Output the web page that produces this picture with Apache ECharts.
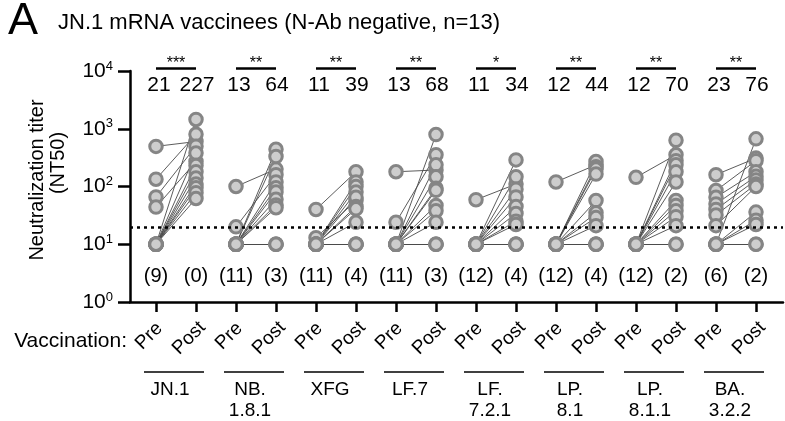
<!DOCTYPE html>
<html><head><meta charset="utf-8">
<script src="https://cdn.jsdelivr.net/npm/echarts@6/dist/echarts.min.js"></script>
<style>html,body{margin:0;padding:0;background:#fff}#c{width:785px;height:421px}</style>
</head><body><div id="c"></div>
<script>
// ---------- data ----------
const variantNames = ['JN.1','NB.\n1.8.1','XFG','LF.7','LF.\n7.2.1','LP.\n8.1','LP.\n8.1.1','BA.\n3.2.2'];
const timepointLabels = ['Pre','Post'];
const gmtPre = [21,13,11,13,11,12,12,23];
const gmtPost = [227,64,39,68,34,44,70,76];
const belowLodPre = [9,11,11,11,12,12,12,6];
const belowLodPost = [0,3,4,3,4,4,2,2];
const significance = ['***','**','**','**','*','**','**','**'];
const yTickExponents = [0,1,2,3,4];
const detectionLimit = 20;

const preJN1 = [495,134,66,44,10,10,10,10,10,10,10,10,10];
const postJN1 = [600,800,500,270,1450,380,230,180,140,110,95,78,62];
const preNB181 = [100,20,10,10,10,10,10,10,10,10,10,10,10];
const postNB181 = [200,160,440,330,120,95,80,60,48,43,10,10,10];
const preXFG = [40,13,10,10,10,10,10,10,10,10,10,10,10];
const postXFG = [180,57,120,100,80,65,45,41,24,10,10,10,10];
const preLF7 = [180,24,10,10,10,10,10,10,10,10,10,10,10];
const postLF7 = [193,354,794,237,147,93,86,47,38,24,10,10,10];
const preLF721 = [59,10,10,10,10,10,10,10,10,10,10,10,10];
const postLF721 = [110,289,147,90,66,45,34,25,22,10,10,10,10];
const preLP81 = [120,10,10,10,10,10,10,10,10,10,10,10,10];
const postLP81 = [237,270,220,200,164,57,35,29,21,10,10,10,10];
const preLP811 = [144,10,10,10,10,10,10,10,10,10,10,10,10];
const postLP811 = [354,631,280,237,180,120,57,47,38,30,21,10,10];
const preBA322 = [160,85,65,50,40,32,21,10,10,10,10,10,10];
const postBA322 = [310,280,180,150,130,110,100,668,36,26,22,10,10];

const preAll = [preJN1,preNB181,preXFG,preLF7,preLF721,preLP81,preLP811,preBA322];
const postAll = [postJN1,postNB181,postXFG,postLF7,postLF721,postLP81,postLP811,postBA322];

// ---------- build ----------
const FONT = "'Liberation Sans', Arial, Helvetica, sans-serif";
// x position of each column: Pre of variant k at 2k+1, Post at 2k+2
const xPreOf = k => 2 * k + 1;
const xPostOf = k => 2 * k + 2;
const points = [];
const segments = [];
preAll.forEach((pre, k) => {
  const post = postAll[k];
  pre.forEach((v, i) => {
    points.push([xPreOf(k), v]);
    points.push([xPostOf(k), post[i]]);
    segments.push({coords: [[xPreOf(k), v], [xPostOf(k), post[i]]]});
  });
});
const tickPositions = [];
variantNames.forEach((v, k) => { tickPositions.push(xPreOf(k), xPostOf(k)); });

const chart = echarts.init(document.getElementById('c'), null, {renderer: 'canvas'});

function annotate(params, api) {
  const k = api.value(0);
  const top = api.coord([xPreOf(k), 10000]);
  const topPost = api.coord([xPostOf(k), 10000]);
  const bot = api.coord([xPreOf(k), 1]);
  const xPre = top[0], xPost = topPost[0], yT = top[1], yB = bot[1];
  const txt = (s, x, y, size, extra) => Object.assign({
    type: 'text', x: x, y: y,
    style: {text: s, fontSize: size, fontFamily: FONT, fill: '#000', align: 'center', verticalAlign: 'middle'}
  }, extra || {});
  const unit = xPost - xPre;
  return {
    type: 'group',
    children: [
      {type: 'line', shape: {x1: xPre, y1: yT - 2.4, x2: xPost, y2: yT - 2.4}, style: {stroke: '#000', lineWidth: 2.5}},
      txt(significance[k], (xPre + xPost) / 2, yT - 7, 16),
      txt(String(gmtPre[k]), xPre + 3, yT + 14.6, 21),
      txt(String(gmtPost[k]), xPost + 1, yT + 14.6, 21),
      txt('(' + belowLodPre[k] + ')', xPre, yB - 25.5, 20),
      txt('(' + belowLodPost[k] + ')', xPost, yB - 25.5, 20),
      txt(timepointLabels[0], xPre - 7, yB + 34, 19, {rotation: Math.PI / 4}),
      txt(timepointLabels[1], xPost - 7, yB + 36, 19, {rotation: Math.PI / 4}),
      {type: 'line', shape: {x1: xPre - 0.3 * unit, y1: yB + 70, x2: xPre + 1.2 * unit, y2: yB + 70}, style: {stroke: '#000', lineWidth: 1.6}},
      {type: 'text', x: xPre + 0.35 * unit, y: yB + 77,
        style: {text: variantNames[k], fontSize: 19, lineHeight: 21.5, fontFamily: FONT, fill: '#000', align: 'center', verticalAlign: 'top'}}
    ]
  };
}

const option = {
  animation: false,
  backgroundColor: '#fff',
  grid: {left: 130, right: 2, top: 71, bottom: 119},
  xAxis: {
    type: 'value', min: 0.35, max: 16.675,
    axisLine: {show: true, lineStyle: {color: '#000', width: 2.5}},
    axisTick: {show: true, customValues: tickPositions, length: 10, lineStyle: {color: '#000', width: 2.5}},
    axisLabel: {show: false},
    splitLine: {show: false}
  },
  yAxis: {
    type: 'log', logBase: 10, min: 1, max: 10000,
    axisLine: {show: true, lineStyle: {color: '#000', width: 2.5}},
    axisTick: {show: true, length: 12, lineStyle: {color: '#000', width: 2.5}},
    splitLine: {show: false},
    minorTick: {show: false},
    axisLabel: {
      margin: 17,
      formatter: v => {
        const e = Math.round(Math.log10(v));
        return yTickExponents.includes(e) ? '{b|10}{s|' + e + '}' : '';
      },
      rich: {
        b: {fontSize: 21, fontFamily: FONT, color: '#000'},
        s: {fontSize: 13, fontFamily: FONT, color: '#000', padding: [0, 0, 10, 0]}
      }
    }
  },
  graphic: [
    {type: 'text', x: 8, y: 22, style: {text: 'A', fontSize: 45, fontFamily: FONT, fill: '#000', verticalAlign: 'middle'}},
    {type: 'text', x: 58, y: 23, style: {text: 'JN.1 mRNA vaccinees (N-Ab negative, n=13)', fontSize: 22, fontFamily: FONT, fill: '#000', verticalAlign: 'middle'}},
    {type: 'text', x: 37.5, y: 180, rotation: Math.PI / 2, style: {text: 'Neutralization titer', fontSize: 20, fontFamily: FONT, fill: '#000', align: 'center', verticalAlign: 'middle'}},
    {type: 'text', x: 58.5, y: 163, rotation: Math.PI / 2, style: {text: '(NT50)', fontSize: 20, fontFamily: FONT, fill: '#000', align: 'center', verticalAlign: 'middle'}},
    {type: 'text', x: 127, y: 341, style: {text: 'Vaccination:', fontSize: 21, fontFamily: FONT, fill: '#000', align: 'right', verticalAlign: 'middle'}}
  ],
  series: [
    {
      type: 'line', data: [], z: 1, silent: true,
      markLine: {
        silent: true, symbol: ['none', 'none'], label: {show: false},
        lineStyle: {color: '#000', width: 2.6, type: [3, 4]},
        data: [{yAxis: detectionLimit}]
      }
    },
    {
      type: 'lines', coordinateSystem: 'cartesian2d', z: 2, silent: true,
      lineStyle: {color: '#4a4a4a', width: 1, opacity: 0.9},
      data: segments
    },
    {
      type: 'scatter', z: 3, silent: true,
      symbol: 'circle', symbolSize: 12.5,
      itemStyle: {color: '#cdcdcd', borderColor: '#858585', borderWidth: 3, opacity: 1},
      data: points
    },
    {
      type: 'custom', z: 4, silent: true,
      renderItem: annotate,
      data: variantNames.map((v, k) => [k])
    }
  ]
};
chart.setOption(option);
</script>
</body></html>
